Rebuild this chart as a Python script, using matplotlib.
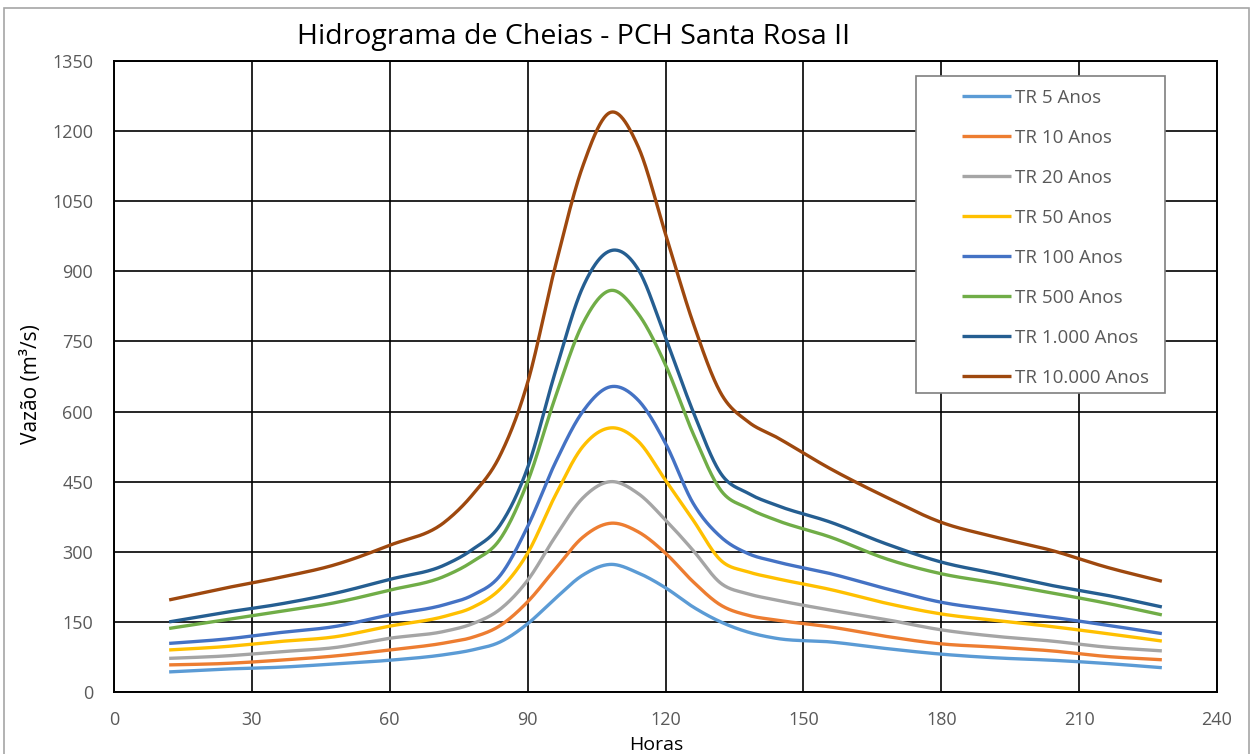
import numpy as np
import matplotlib
matplotlib.use("Agg")
import matplotlib.pyplot as plt
from matplotlib.patches import Rectangle

plt.rcParams['font.family'] = ['Open Sans', 'DejaVu Sans']

horas = [12, 24, 36, 48, 60, 72, 78, 84, 90, 96, 102, 108, 114, 120, 126, 132, 138,
         144, 156, 168, 180, 192, 204, 216, 228]

tr5 = [43, 49, 53, 60, 68, 80, 90, 107, 146, 200, 250, 273, 255, 223, 182, 150, 128,
       115, 107, 93, 81, 73, 68, 61, 52]
tr10 = [58, 61, 68, 77, 90, 105, 117, 142, 193, 263, 331, 361, 343, 297, 236, 186, 164,
        154, 139, 119, 103, 96, 88, 76, 69]
tr20 = [72, 77, 86, 95, 115, 130, 146, 177, 239, 332, 415, 450, 425, 368, 303, 233, 210,
        197, 175, 155, 133, 119, 109, 96, 88]
tr50 = [90, 97, 108, 118, 141, 162, 181, 220, 297, 420, 525, 565, 537, 453, 368, 282, 257,
        243, 219, 190, 167, 153, 140, 125, 109]
tr100 = [104, 113, 127, 140, 165, 187, 207, 249, 354, 490, 600, 653, 625, 532, 404, 332, 296,
         279, 253, 221, 192, 175, 160, 143, 125]
tr500 = [136, 154, 172, 191, 218, 248, 279, 327, 450, 630, 788, 859, 810, 700, 553, 432, 393,
         368, 331, 285, 253, 233, 212, 190, 165]
tr1000 = [150, 170, 188, 211, 241, 272, 305, 357, 480, 684, 866, 944, 905, 758, 600, 468, 425,
          400, 363, 317, 278, 253, 228, 207, 182]
tr10000 = [197, 222, 245, 272, 314, 364, 422, 506, 662, 910, 1125, 1240, 1168, 980, 790, 640, 578,
           546, 477, 417, 363, 331, 303, 267, 237]

labels = ["TR 5 Anos", "TR 10 Anos", "TR 20 Anos", "TR 50 Anos", "TR 100 Anos",
          "TR 500 Anos", "TR 1.000 Anos", "TR 10.000 Anos"]
series = [tr5, tr10, tr20, tr50, tr100, tr500, tr1000, tr10000]
colors = ["#5B9BD5", "#ED7D31", "#A5A5A5", "#FFC000", "#4472C4", "#70AD47", "#255E91", "#9E480E"]


def smooth(x, y, n=40):
    # smoothed line: cubic Hermite through the points, 3-point (non-uniform) tangents
    x = np.asarray(x, float)
    y = np.asarray(y, float)
    h = np.diff(x)
    d = np.diff(y) / h
    m = np.empty_like(y)
    m[0] = d[0]
    m[-1] = d[-1]
    for i in range(1, len(y) - 1):
        m[i] = (h[i - 1] * d[i] + h[i] * d[i - 1]) / (h[i - 1] + h[i])
    xs, ys = [x[0]], [y[0]]
    t = np.linspace(0, 1, n)[1:]
    for i in range(len(x) - 1):
        h00 = 2 * t ** 3 - 3 * t ** 2 + 1
        h10 = t ** 3 - 2 * t ** 2 + t
        h01 = -2 * t ** 3 + 3 * t ** 2
        h11 = t ** 3 - t ** 2
        yy = h00 * y[i] + h10 * h[i] * m[i] + h01 * y[i + 1] + h11 * h[i] * m[i + 1]
        xs.extend(x[i] + t * h[i])
        ys.extend(yy)
    return np.array(xs), np.array(ys)


W, H = 1252, 754
fig = plt.figure(figsize=(W / 100, H / 100), dpi=100)
ax = fig.add_axes([114 / W, 1 - 692 / H, (1217 - 114) / W, (692 - 61) / H])

handles = []
for lab, s, c in zip(labels, series, colors):
    xs, ys = smooth(horas, s)
    h, = ax.plot(xs, ys, color=c, lw=2.4, label=lab, solid_capstyle='butt', zorder=3)
    handles.append(h)

ax.set_xlim(0, 240)
ax.set_ylim(0, 1350)
ax.set_xticks(np.arange(0, 241, 30))
ax.set_yticks(np.arange(0, 1351, 150))
ax.grid(True, color='black', lw=1.2, zorder=1)
ax.set_axisbelow(True)
for sp in ax.spines.values():
    sp.set_color('black')
    sp.set_linewidth(1.4)
ax.tick_params(axis='x', length=0, labelsize=13, labelcolor='#595959', pad=14)
ax.tick_params(axis='y', length=0, labelsize=13, labelcolor='#595959', pad=15)

ax.set_xlabel("Horas", fontsize=14, color='black')
ax.xaxis.set_label_coords((656 - 114) / (1217 - 114), -(745 - 692) / (692 - 61))
ax.set_ylabel("Vazão (m³/s)", fontsize=15, color='black')
ax.yaxis.set_label_coords(-(114 - 31) / (1217 - 114), (692 - 384) / (692 - 61))
ax.xaxis.label.set_va('center')
ax.yaxis.label.set_va('center')

fig.text(574 / W, 1 - 37 / H, "Hidrograma de Cheias - PCH Santa Rosa II",
         fontsize=20.5, ha='center', va='center', color='black')

# legend box
fig.patches.append(Rectangle((916 / W, 1 - 393 / H), (1165 - 916) / W, (393 - 76) / H,
                             transform=fig.transFigure, facecolor='white', edgecolor='#7f7f7f',
                             lw=1.2, zorder=4))
leg = fig.legend(handles=handles, labels=labels, loc='upper left',
                 bbox_to_anchor=(962 / W, 1 - 89 / H), fontsize=13.5, frameon=False,
                 handlelength=2.6, labelspacing=1.17, borderpad=0, handletextpad=0.25,
                 borderaxespad=0)
leg.set_zorder(5)
for t in leg.get_texts():
    t.set_color('#595959')

fig.patches.append(Rectangle((4 / W, -0.01), 1245 / W, 1 - 8 / H + 0.01,
                             transform=fig.transFigure, fill=False, edgecolor='#a6a6a6', lw=1.2))

fig.savefig("out.png", dpi=100)
